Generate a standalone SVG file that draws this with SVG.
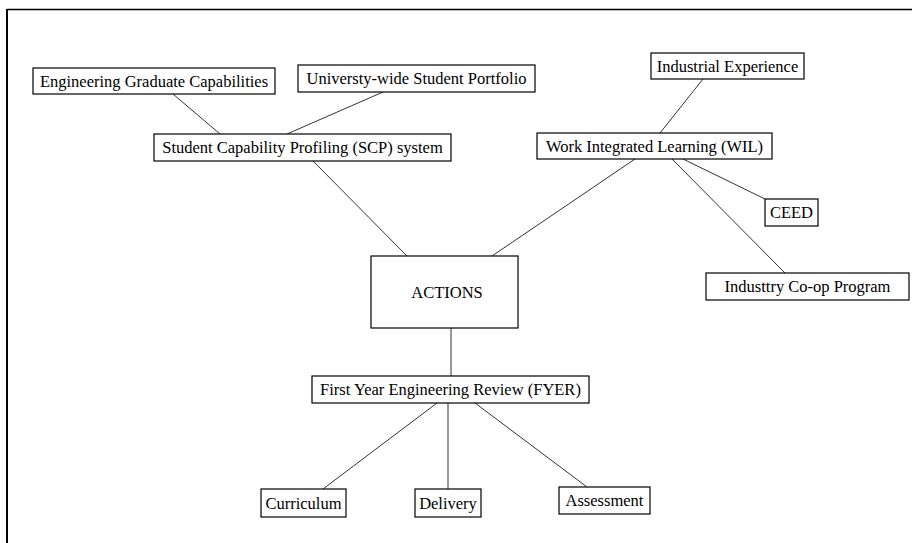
<svg xmlns="http://www.w3.org/2000/svg" width="912" height="543" viewBox="0 0 912 543">
<style>
.box{fill:#fff;stroke:#000;stroke-width:1.2}
.t{font-family:"Liberation Serif","Times New Roman",serif;font-size:16.5px;fill:#000;text-anchor:middle}
.c line{stroke:#333;stroke-width:1}
</style>
<rect x="0" y="0" width="912" height="543" fill="#fff"/>
<g id="frame">
<line x1="7" y1="9.5" x2="912" y2="9.5" stroke="#000" stroke-width="1.5"/>
<line x1="7" y1="9" x2="7" y2="543" stroke="#000" stroke-width="2"/>
</g>
<g class="c" id="connectors">
<line x1="173" y1="94" x2="220" y2="134"/>
<line x1="383" y1="92" x2="287" y2="134"/>
<line x1="703" y1="79" x2="660" y2="133"/>
<line x1="683" y1="159" x2="765" y2="199"/>
<line x1="672" y1="159" x2="785" y2="273"/>
<line x1="635" y1="159" x2="492" y2="256"/>
<line x1="313" y1="161" x2="407" y2="256"/>
<line x1="451" y1="328" x2="451" y2="376"/>
<line x1="437" y1="403" x2="323" y2="489"/>
<line x1="448" y1="403" x2="448" y2="489"/>
<line x1="475" y1="403" x2="587" y2="487"/>
</g>
<g id="n-egc"><rect class="box" x="33" y="68" width="242" height="26"/><text class="t" x="154" y="87">Engineering Graduate Capabilities</text></g>
<g id="n-uwsp"><rect class="box" x="298" y="65" width="237" height="27"/><text class="t" x="416.5" y="84">Universty-wide Student Portfolio</text></g>
<g id="n-scp"><rect class="box" x="154" y="134" width="297" height="27"/><text class="t" x="302.5" y="153">Student Capability Profiling (SCP) system</text></g>
<g id="n-ie"><rect class="box" x="651" y="53" width="153" height="26"/><text class="t" x="727.5" y="72">Industrial Experience</text></g>
<g id="n-wil"><rect class="box" x="537" y="133" width="235" height="26"/><text class="t" x="654.5" y="152">Work Integrated Learning (WIL)</text></g>
<g id="n-ceed"><rect class="box" x="765" y="199" width="53" height="27"/><text class="t" x="791.5" y="218">CEED</text></g>
<g id="n-coop"><rect class="box" x="706" y="273" width="203" height="27"/><text class="t" x="807.5" y="292">Industtry Co-op Program</text></g>
<g id="n-actions"><rect class="box" x="371" y="256" width="147" height="72"/><text class="t" x="447" y="298">ACTIONS</text></g>
<g id="n-fyer"><rect class="box" x="312" y="376" width="277" height="27"/><text class="t" x="450.5" y="395">First Year Engineering Review (FYER)</text></g>
<g id="n-curr"><rect class="box" x="261" y="489" width="85" height="28"/><text class="t" x="303.5" y="509">Curriculum</text></g>
<g id="n-del"><rect class="box" x="415" y="489" width="66" height="28"/><text class="t" x="448" y="509">Delivery</text></g>
<g id="n-ass"><rect class="box" x="559" y="487" width="91" height="27"/><text class="t" x="604.5" y="506">Assessment</text></g>
</svg>
